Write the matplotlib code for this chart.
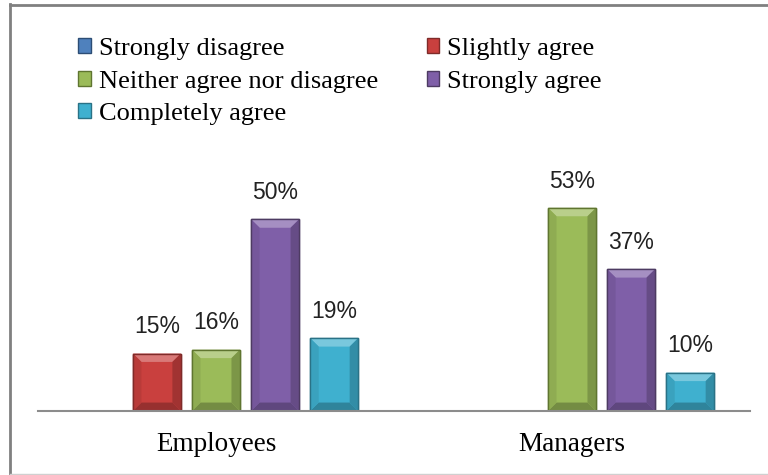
import matplotlib
matplotlib.use("Agg")
import matplotlib.pyplot as plt
from matplotlib.lines import Line2D
from matplotlib.patches import Polygon
from matplotlib.colors import to_rgb
import numpy as np

categories = ["Employees", "Managers"]
series_names = ["Strongly disagree", "Slightly agree", "Neither agree nor disagree",
                "Strongly agree", "Completely agree"]
strongly_disagree = [0, 0]
slightly_agree = [15, 0]
neither = [16, 53]
strongly_agree = [50, 37]
completely_agree = [19, 10]
values = [strongly_disagree, slightly_agree, neither, strongly_agree, completely_agree]
colors = ["#4F81BD", "#C9403E", "#9BBB59", "#7F5FA8", "#3FB0CF"]
edges = ["#2C4D75", "#7F2B29", "#5F7530", "#4D3B62", "#2A7286"]


def mix(c, other, t):
    c = np.array(to_rgb(c)); o = np.array(to_rgb(other))
    return tuple(c * (1 - t) + o * t)


fig = plt.figure(figsize=(7.68, 4.75), dpi=100)
ax = fig.add_axes([38/768, (475-411)/475, 712/768, 230/475])

x = np.arange(len(categories))
slot = 0.166
width = 0.135
bx = 0.024   # bevel width in x data units
by = 2.2     # bevel height in y data units
for i, (name, vals) in enumerate(zip(series_names, values)):
    pos = x + (i - 2) * slot
    bars = ax.bar(pos, vals, width, color=colors[i], edgecolor=edges[i], linewidth=1.0,
                  label=name, zorder=2)
    for b, v in zip(bars, vals):
        if v <= 0:
            continue
        x0, x1 = b.get_x(), b.get_x() + b.get_width()
        y0, y1 = 0, v
        c = colors[i]
        ax.add_patch(Polygon([(x0, y1), (x1, y1), (x1 - bx, y1 - by), (x0 + bx, y1 - by)],
                             closed=True, facecolor=mix(c, "white", 0.3), edgecolor="none", zorder=3))
        ax.add_patch(Polygon([(x0, y0), (x1, y0), (x1 - bx, y0 + by), (x0 + bx, y0 + by)],
                             closed=True, facecolor=mix(c, "black", 0.25), edgecolor="none", zorder=3))
        ax.add_patch(Polygon([(x0, y0), (x0, y1), (x0 + bx, y1 - by), (x0 + bx, y0 + by)],
                             closed=True, facecolor=mix(c, "black", 0.08), edgecolor="none", zorder=3))
        ax.add_patch(Polygon([(x1, y0), (x1, y1), (x1 - bx, y1 - by), (x1 - bx, y0 + by)],
                             closed=True, facecolor=mix(c, "black", 0.2), edgecolor="none", zorder=3))
        ax.add_patch(plt.Rectangle((x0, y0), x1 - x0, y1 - y0, facecolor="none",
                                   edgecolor=edges[i], linewidth=1.0, zorder=4))
        ax.text((x0 + x1) / 2, v + 4.0, f"{v}%", ha="center", va="bottom",
                fontsize=16.5, family="Liberation Sans", color="#222222")

ax.set_xlim(-0.5, 1.5)
ax.set_ylim(0, 60)
for s in ["top", "right", "left"]:
    ax.spines[s].set_visible(False)
ax.spines["bottom"].set_color("#8c8c8c")
ax.spines["bottom"].set_linewidth(1.5)
ax.spines["bottom"].set_zorder(5)
ax.set_yticks([])
ax.set_xticks(x)
ax.set_xticklabels(categories, family="Liberation Serif", fontsize=19.5)
ax.tick_params(axis="x", length=0, pad=15)

handles, labels = ax.get_legend_handles_labels()
order = [0, 2, 4, 1, 3]
fig.legend([handles[k] for k in order], [labels[k] for k in order],
           loc="upper left", bbox_to_anchor=(78/768, 1 - 38/475), ncol=2,
           frameon=False, prop={"family": "Liberation Serif", "size": 19},
           handlelength=0.48, handleheight=0.48, handletextpad=0.3,
           labelspacing=0.4, columnspacing=1.85, borderaxespad=0, borderpad=0)

# outer frame
fig.add_artist(Line2D([10/768, 10/768], [0, 1 - 4/475], transform=fig.transFigure,
                      color="#808080", linewidth=2))
fig.add_artist(Line2D([10/768, 1], [1 - 4.5/475, 1 - 4.5/475], transform=fig.transFigure,
                      color="#808080", linewidth=2))
fig.add_artist(Line2D([10/768, 1], [1/475, 1/475], transform=fig.transFigure,
                      color="#d0d0d0", linewidth=1))

fig.savefig("out.png", dpi=100)
